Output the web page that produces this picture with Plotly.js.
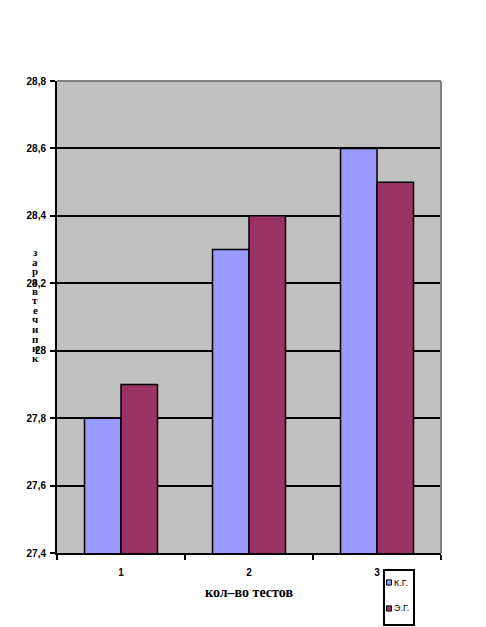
<!DOCTYPE html>
<html><head><meta charset="utf-8">
<script src="https://cdn.plot.ly/plotly-3.0.1.min.js"></script>
<style>html,body{margin:0;padding:0;background:#fff}#chart{width:486px;height:627px}</style>
</head><body><div id="chart"></div>
<script>
const categories = ['1', '2', '3'];
const seriesNames = ['К.Г.', 'Э.Г.'];
const seriesColors = ['#9999FF', '#993366'];
const kgValues = [27.8, 28.3, 28.6];
const egValues = [27.9, 28.4, 28.5];
const yTicks = [27.4, 27.6, 27.8, 28.0, 28.2, 28.4, 28.6, 28.8];
const yTickLabels = ['27,4', '27,6', '27,8', '28', '28,2', '28,4', '28,6', '28,8'];
const xTitle = 'кол–во тестов';
const yTitleLetters = ['з','а','р','а','в','т','е','ч','и','п','и','к'];

const traces = [
  {type:'bar', name: seriesNames[0], x: categories, y: kgValues,
   marker:{color:seriesColors[0], line:{color:'#000', width:1.5}}},
  {type:'bar', name: seriesNames[1], x: categories, y: egValues,
   marker:{color:seriesColors[1], line:{color:'#000', width:1.5}}}
];

const plotH = 472;
const annotations = [];
const letterStep = 9.6 / plotH;
const yCenter = (553 - 305) / plotH;
yTitleLetters.forEach((ch, i) => {
  annotations.push({xref:'paper', yref:'paper', x:-0.057,
    y: yCenter + ((yTitleLetters.length - 1) / 2 - i) * letterStep,
    xanchor:'center', yanchor:'middle', text: ch, showarrow:false,
    font:{family:'Liberation Serif, Times New Roman', size:11, color:'#000', weight:'bold'}});
});
const legX0 = 0.8516, legX1 = 0.9297, legY0 = -0.036, legY1 = -0.1525;
const shapes = [
  {type:'line', xref:'paper', yref:'paper', x0:0, x1:1, y0:1, y1:1, line:{color:'#808080', width:2}, layer:'above'},
  {type:'line', xref:'paper', yref:'paper', x0:1, x1:1, y0:0, y1:1, line:{color:'#808080', width:2}, layer:'above'},
  {type:'rect', xref:'paper', yref:'paper', x0:legX0, x1:legX1, y0:legY0, y1:legY1, line:{color:'#000', width:2}, fillcolor:'#fff', layer:'above'}
];
const legRows = [-0.0625, -0.1175];
seriesNames.forEach((nm, i) => {
  const yc = legRows[i];
  shapes.push({type:'rect', xref:'paper', yref:'paper', x0:legX0 + 0.0065, x1:legX0 + 0.0195,
    y0:yc - 0.0055, y1:yc + 0.0055, fillcolor:seriesColors[i], line:{color:'#000', width:1}, layer:'above'});
  annotations.push({xref:'paper', yref:'paper', x:legX0 + 0.022, y:yc, xanchor:'left', yanchor:'middle',
    text:nm, showarrow:false, font:{family:'Liberation Sans, Arial', size:9, color:'#000'}});
});

const layout = {
  width: 486, height: 627,
  margin: {l:57, r:45, t:81, b:74, autoexpand:false},
  paper_bgcolor:'#fff', plot_bgcolor:'#C0C0C0',
  barmode:'group', bargap:0.43, bargroupgap:0,
  showlegend:false,
  xaxis:{type:'category', showgrid:false, showline:true, linecolor:'#000', linewidth:2,
    ticks:'outside', tickson:'boundaries', ticklen:5, tickwidth:1.5, tickcolor:'#000',
    ticklabelstandoff:9,
    tickfont:{family:'Liberation Sans, Arial', size:10, color:'#000', weight:'bold'},
    title:{text: xTitle, standoff:10, font:{family:'Liberation Serif, Times New Roman', size:14, color:'#000', weight:'bold'}},
    automargin:false, zeroline:false},
  yaxis:{range:[27.4, 28.8], tickvals: yTicks, ticktext: yTickLabels,
    showgrid:true, gridcolor:'#000', gridwidth:2, showline:true, linecolor:'#000', linewidth:2,
    ticks:'outside', ticklen:5, tickwidth:2, tickcolor:'#000', zeroline:false, ticklabelstandoff:2,
    tickfont:{family:'Liberation Sans, Arial', size:10, color:'#000', weight:'bold'},
    automargin:false},
  shapes: shapes,
  annotations: annotations
};
Plotly.newPlot('chart', traces, layout, {displayModeBar:false, staticPlot:true});
</script></body></html>
